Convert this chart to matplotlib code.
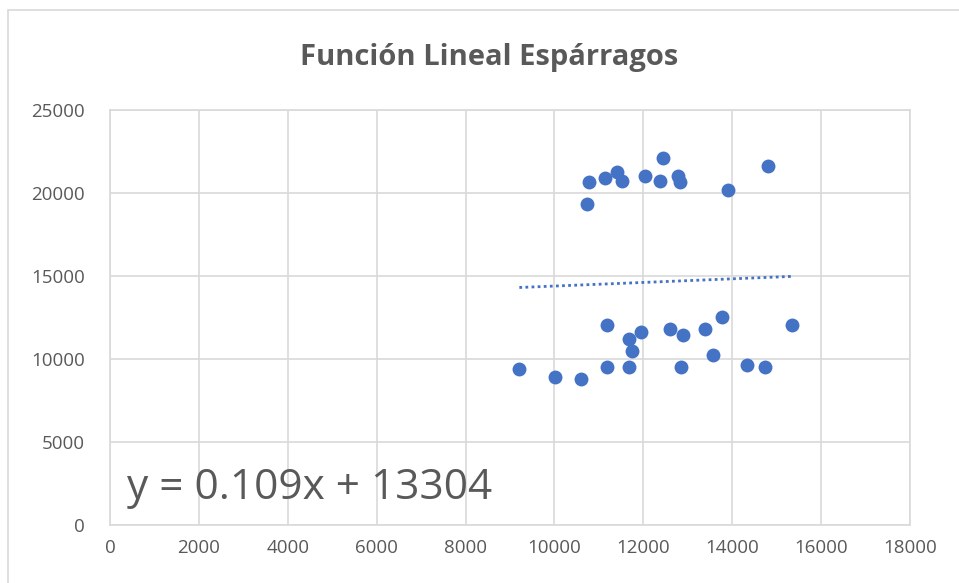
import matplotlib
matplotlib.use('Agg')
import matplotlib.pyplot as plt
from matplotlib.patches import Rectangle

# data
x_vals = [10785, 10740, 11145, 11415, 11514, 12045, 12376, 12450, 12774, 12826, 13899, 14799,
          9210, 10020, 10605, 11190, 11190, 11685, 11739, 11685, 11955, 12594, 12894, 12849,
          13395, 13764, 13575, 14334, 14739, 15339]
y_vals = [20645, 19319, 20886, 21265, 20741, 21024, 20741, 22108, 21042, 20645, 20163, 21627,
          9398, 8916, 8795, 12066, 9518, 11223, 10500, 9518, 11608, 11825, 11464, 9518,
          11825, 12548, 10259, 9639, 9518, 12066]
slope = 0.109
intercept = 13304
x_ticks = list(range(0, 18001, 2000))
y_ticks = list(range(0, 25001, 5000))
title = 'Función Lineal Espárragos'

plt.rcParams['font.family'] = ['Open Sans', 'DejaVu Sans']
grey = '#595959'

fig = plt.figure(figsize=(9.59, 5.83), dpi=100)
ax = fig.add_axes([110 / 959, 58 / 583, 800 / 959, 415 / 583])

ax.scatter(x_vals, y_vals, s=100, color='#4472C4', zorder=3, linewidths=0)

xmin, xmax = min(x_vals), max(x_vals)
ax.plot([xmin, xmax], [slope * xmin + intercept, slope * xmax + intercept],
        linestyle=(0, (1, 1.2)), color='#4472C4', linewidth=2, zorder=2)

ax.set_xlim(0, 18000)
ax.set_ylim(0, 25000)
ax.set_xticks(x_ticks)
ax.set_yticks(y_ticks)
ax.grid(True, color='#d9d9d9', linewidth=1.2)
ax.set_axisbelow(True)
for s in ax.spines.values():
    s.set_color('#d9d9d9')
    s.set_linewidth(1.2)
ax.tick_params(length=0, labelsize=13.5, colors=grey)
ax.tick_params(axis='x', pad=10)
ax.tick_params(axis='y', pad=18)

ax.text(380, 2250, 'y = {}x + {}'.format(slope, intercept), fontsize=30.5,
        color=grey, va='center', ha='left')

fig.text(489 / 959, 1 - 57 / 583, title, fontsize=21, fontweight='bold',
         color=grey, ha='center', va='center')

fig.patches.append(Rectangle((8 / 959, -0.1), 1.1, 1 - 10 / 583 + 0.1, transform=fig.transFigure,
                             fill=False, edgecolor='#d9d9d9', linewidth=1.2))

fig.savefig('out.png', dpi=100)
